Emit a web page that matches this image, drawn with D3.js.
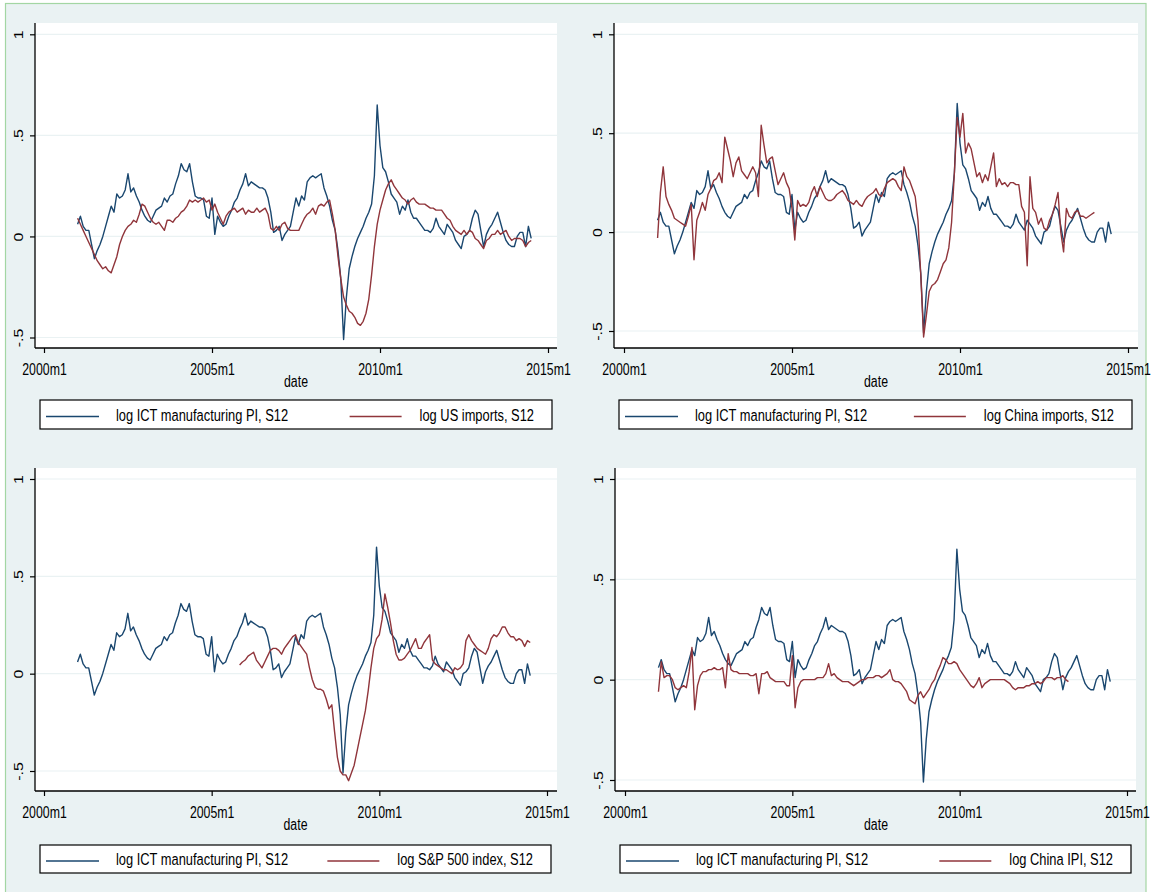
<!DOCTYPE html>
<html>
<head>
<meta charset="utf-8">
<script src="https://cdn.jsdelivr.net/npm/d3@7"></script>
<style>
  body { margin: 0; background: #ffffff; }
  svg { display: block; }
  text { font-family: "Liberation Sans", Arial, sans-serif; fill: #000; }
</style>
</head>
<body>
<svg id="chart" width="1151" height="892"></svg>
<script>
// Month index counted from 2000m1 (= 0).
const ictStart = 12;          // 2001m1
const ictPI = [
  0.06, 0.10, 0.05, 0.03, 0.03, -0.04, -0.11, -0.07, -0.04, 0.00, 0.05, 0.10,
  0.15, 0.12, 0.21, 0.19, 0.20, 0.23, 0.31, 0.22, 0.24, 0.20, 0.17, 0.13,
  0.10, 0.08, 0.07, 0.10, 0.13, 0.14, 0.15, 0.19, 0.17, 0.20, 0.21, 0.26,
  0.30, 0.36, 0.33, 0.32, 0.36, 0.27, 0.20, 0.19, 0.19, 0.18, 0.10, 0.09,
  0.19, 0.01, 0.10, 0.07, 0.05, 0.06, 0.10, 0.13, 0.17, 0.19, 0.23, 0.26,
  0.31, 0.25, 0.27, 0.26, 0.25, 0.24, 0.24, 0.23, 0.19, 0.12, 0.02, 0.03,
  0.05, -0.02, 0.01, 0.03, 0.05, 0.12, 0.19, 0.15, 0.20, 0.18, 0.27, 0.29,
  0.30, 0.29, 0.30, 0.31, 0.24, 0.20, 0.15, 0.08, 0.03, -0.07, -0.21, -0.51,
  -0.30, -0.16, -0.10, -0.05, -0.01, 0.02, 0.05, 0.09, 0.12, 0.16, 0.30, 0.65,
  0.45, 0.34, 0.32, 0.27, 0.21, 0.19, 0.17, 0.11, 0.15, 0.13, 0.18, 0.12,
  0.09, 0.09, 0.07, 0.05, 0.03, 0.03, 0.02, 0.04, 0.09, 0.05, 0.03, 0.01,
  0.06, 0.04, 0.02, -0.02, -0.04, -0.06, 0.00, 0.01, 0.03, 0.09, 0.13, 0.11,
  0.03, -0.05, 0.01, 0.04, 0.06, 0.09, 0.12, 0.07, 0.02, -0.02, -0.04, -0.05,
  -0.05, 0.00, 0.02, 0.02, -0.05, 0.05, -0.01
];

const usImportsStart = 12;    // 2001m1
const usImports = [
  0.09, 0.06, 0.03, 0.00, -0.03, -0.06, -0.09, -0.12, -0.14, -0.16, -0.15, -0.17,
  -0.18, -0.14, -0.10, -0.04, 0.00, 0.03, 0.05, 0.06, 0.08, 0.07, 0.11, 0.16,
  0.15, 0.12, 0.09, 0.07, 0.06, 0.07, 0.05, 0.03, 0.08, 0.08, 0.07, 0.09,
  0.10, 0.12, 0.13, 0.15, 0.18, 0.17, 0.18, 0.17, 0.18, 0.19, 0.17, 0.18,
  0.13, 0.16, 0.12, 0.09, 0.06, 0.10, 0.12, 0.13, 0.14, 0.12, 0.13, 0.14,
  0.11, 0.13, 0.12, 0.12, 0.14, 0.12, 0.13, 0.14, 0.11, 0.04, 0.03, 0.05,
  0.03, 0.06, 0.07, 0.04, 0.03, 0.03, 0.03, 0.03, 0.06, 0.09, 0.11, 0.12,
  0.14, 0.11, 0.15, 0.16, 0.15, 0.17, 0.18, 0.11, 0.03, -0.10, -0.21, -0.30,
  -0.34, -0.37, -0.38, -0.40, -0.43, -0.44, -0.42, -0.38, -0.31, -0.19, -0.05, 0.06,
  0.13, 0.18, 0.23, 0.26, 0.28, 0.25, 0.23, 0.21, 0.19, 0.18, 0.16, 0.18,
  0.19, 0.17, 0.16, 0.16, 0.16, 0.15, 0.14, 0.14, 0.13, 0.13, 0.13, 0.11,
  0.09, 0.08, 0.05, 0.03, 0.02, 0.01, 0.03, 0.01, 0.03, 0.02, -0.01, -0.02,
  -0.04, -0.06, -0.02, -0.01, 0.01, 0.01, 0.03, 0.01, 0.02, 0.03, 0.00, -0.02,
  -0.01, -0.01, -0.01, -0.02, -0.05, -0.03, -0.02
];

const chinaImportsStart = 12; // 2001m1
const chinaImports = [
  -0.03, 0.20, 0.33, 0.18, 0.14, 0.11, 0.07, 0.06, 0.05, 0.04, 0.03, 0.08,
  0.14, -0.14, 0.06, 0.10, 0.15, 0.11, 0.19, 0.22, 0.26, 0.27, 0.30, 0.25,
  0.48, 0.42, 0.36, 0.28, 0.35, 0.38, 0.31, 0.29, 0.27, 0.30, 0.33, 0.30,
  0.18, 0.54, 0.44, 0.35, 0.37, 0.38, 0.31, 0.24, 0.27, 0.30, 0.25, 0.22,
  0.12, -0.04, 0.16, 0.13, 0.14, 0.13, 0.15, 0.20, 0.23, 0.18, 0.23, 0.20,
  0.17, 0.16, 0.16, 0.17, 0.19, 0.20, 0.21, 0.19, 0.16, 0.15, 0.14, 0.16,
  0.14, 0.13, 0.16, 0.18, 0.19, 0.20, 0.22, 0.19, 0.18, 0.22, 0.25, 0.26,
  0.27, 0.26, 0.23, 0.21, 0.33, 0.28, 0.26, 0.22, 0.18, 0.06, -0.22, -0.53,
  -0.42, -0.30, -0.27, -0.26, -0.24, -0.20, -0.16, -0.14, -0.08, 0.05, 0.30, 0.58,
  0.48, 0.60, 0.40, 0.45, 0.42, 0.35, 0.28, 0.30, 0.25, 0.29, 0.26, 0.33,
  0.40, 0.23, 0.27, 0.24, 0.25, 0.23, 0.25, 0.25, 0.24, 0.24, 0.13, 0.10,
  -0.17, 0.28, 0.12, 0.10, 0.04, 0.07, 0.02, 0.01, 0.06, 0.09, 0.14, 0.20,
  0.00, -0.10, 0.12, 0.08, 0.07, 0.10, 0.11, 0.08, 0.08, 0.07, 0.08, 0.09,
  0.10
];

const sp500Start = 70;        // 2005m11
const sp500 = [
  0.045, 0.06,
  0.07, 0.09, 0.10, 0.11, 0.07, 0.05, 0.03, 0.06, 0.09, 0.12, 0.13, 0.13,
  0.12, 0.10, 0.13, 0.15, 0.17, 0.19, 0.20, 0.16, 0.14, 0.12, 0.10, 0.03,
  -0.03, -0.07, -0.08, -0.08, -0.09, -0.13, -0.18, -0.16, -0.30, -0.43, -0.50, -0.52,
  -0.52, -0.55, -0.51, -0.47, -0.40, -0.33, -0.26, -0.19, -0.09, 0.03, 0.13, 0.18,
  0.20, 0.28, 0.41, 0.34, 0.26, 0.17, 0.10, 0.07, 0.07, 0.08, 0.10, 0.12,
  0.15, 0.18, 0.13, 0.13, 0.16, 0.18, 0.20, 0.07, 0.05, 0.04, 0.03, 0.02,
  0.02, 0.01, 0.00, 0.03, 0.02, 0.03, 0.05, 0.17, 0.20, 0.17, 0.15, 0.13,
  0.12, 0.11, 0.10, 0.13, 0.18, 0.20, 0.19, 0.21, 0.24, 0.24, 0.21, 0.19,
  0.19, 0.17, 0.18, 0.17, 0.14, 0.17, 0.16
];

const chinaIPIStart = 12;     // 2001m1
const chinaIPI = [
  -0.06, 0.09, 0.01, 0.02, 0.02, 0.00, -0.04, -0.05, -0.04, -0.03, -0.04, 0.04,
  0.16, -0.15, -0.03, 0.02, 0.04, 0.04, 0.05, 0.05, 0.06, 0.05, 0.05, 0.06,
  -0.04, 0.13, 0.05, 0.04, 0.04, 0.03, 0.03, 0.03, 0.03, 0.02, 0.02, 0.03,
  -0.07, 0.03, 0.03, 0.04, 0.01, 0.00, -0.01, -0.01, -0.01, -0.01, -0.03, -0.03,
  0.12, -0.14, -0.04, -0.01, 0.00, 0.00, 0.00, 0.00, 0.00, 0.01, 0.01, 0.01,
  0.03, 0.08, 0.02, 0.03, 0.01, 0.00, -0.01, -0.01, -0.01, -0.02, -0.03, -0.02,
  -0.01, 0.00, 0.00, 0.01, 0.01, 0.01, 0.02, 0.02, 0.01, 0.02, 0.03, 0.05,
  0.00, -0.01, -0.01, -0.02, -0.04, -0.06, -0.10, -0.11, -0.12, -0.08, -0.06, -0.09,
  -0.07, -0.05, -0.02, 0.00, 0.04, 0.07, 0.11, 0.10, 0.08, 0.08, 0.09, 0.08,
  0.05, 0.03, 0.01, -0.01, -0.03, -0.04, -0.02, 0.01, -0.04, -0.02, -0.01, 0.00,
  0.00, 0.00, 0.00, 0.00, 0.00, -0.01, -0.02, -0.04, -0.05, -0.04, -0.04, -0.04,
  -0.03, -0.03, -0.02, -0.02, -0.01, -0.02, -0.01, 0.01, 0.01, 0.01, 0.00, 0.01,
  0.01, 0.02, 0.00, -0.01
];

const xTickMonths = [0, 60, 120, 180];
const xTickLabels = ["2000m1", "2005m1", "2010m1", "2015m1"];
const yTickValues = [-0.5, 0, 0.5, 1];
const yTickLabels = ["-.5", "0", ".5", "1"];
const xTitle = "date";
const ictLabel = "log ICT manufacturing PI, S12";
const redLabels = ["log US imports, S12", "log China imports, S12", "log S&P 500 index, S12", "log China IPI, S12"];

const blue = "#1a476f", maroon = "#90353b";
const bg = "#eaf2f3";
const tickFont = 16, tickSqueeze = 0.77;
const legendFont = 16.3, legendSqueeze = 0.79;

const toPoints = (start, arr) => arr.map((v, i) => ({ m: start + i, v }));
const ictSeries = toPoints(ictStart, ictPI);
const redSeries = [
  toPoints(usImportsStart, usImports),
  toPoints(chinaImportsStart, chinaImports),
  toPoints(sp500Start, sp500),
  toPoints(chinaIPIStart, chinaIPI)
];

// Frame geometry for each of the four graphs in the 2x2 grid
const frames = [
  { left: 35,  right: 557,  top: 23,  bottom: 348, x0: 44,  x1: 548,  yTop: 34.3, yBot: 337.5, lg: { x: 40,  y: 400, w: 512, h: 29 } },
  { left: 614, right: 1138, top: 23,  bottom: 348, x0: 624, x1: 1128, yTop: 34.3, yBot: 331,   lg: { x: 619, y: 400, w: 513, h: 29 } },
  { left: 35,  right: 557,  top: 468, bottom: 791, x0: 44,  x1: 547,  yTop: 479,  yBot: 771,   lg: { x: 40,  y: 845, w: 511, h: 28 } },
  { left: 615, right: 1136, top: 468, bottom: 791, x0: 625, x1: 1127, yTop: 479,  yBot: 780,   lg: { x: 620, y: 845, w: 511, h: 28 } }
];

const svg = d3.select("#chart");

// Outer graph region with its thin green frame
svg.append("rect").attr("x", 0).attr("y", 0).attr("width", 1151).attr("height", 892).attr("fill", "#ffffff");
svg.append("rect").attr("x", 5.5).attr("y", 3.5).attr("width", 1140.5).attr("height", 900)
  .attr("fill", bg).attr("stroke", "#a3d6a3").attr("stroke-width", 1.2);

frames.forEach((f, idx) => {
  const g = svg.append("g");
  const x = d3.scaleLinear().domain([0, 180]).range([f.x0, f.x1]);
  const y = d3.scaleLinear().domain([-0.5, 1]).range([f.yBot, f.yTop]);

  // Plot region
  g.append("rect").attr("x", f.left).attr("y", f.top)
    .attr("width", f.right - f.left).attr("height", f.bottom - f.top).attr("fill", "#ffffff");

  // Horizontal grid lines
  g.selectAll(".grid").data(yTickValues).join("line")
    .attr("x1", f.left).attr("x2", f.right)
    .attr("y1", d => y(d)).attr("y2", d => y(d))
    .attr("stroke", bg).attr("stroke-width", 1.2);

  // Series
  const line = d3.line().x(d => x(d.m)).y(d => y(d.v));
  g.append("path").datum(ictSeries).attr("d", line)
    .attr("fill", "none").attr("stroke", blue).attr("stroke-width", 1.4).attr("stroke-linejoin", "round");
  g.append("path").datum(redSeries[idx]).attr("d", line)
    .attr("fill", "none").attr("stroke", maroon).attr("stroke-width", 1.4).attr("stroke-linejoin", "round");

  // X axis
  const xa = g.append("g").attr("transform", `translate(0,${f.bottom})`)
    .call(d3.axisBottom(x).tickValues(xTickMonths).tickFormat((d, i) => xTickLabels[i]).tickSize(5).tickSizeOuter(0));
  xa.select(".domain").remove();
  xa.selectAll(".tick line").attr("stroke", "#000").attr("stroke-width", 1.2);
  xa.selectAll(".tick text").attr("y", 27).attr("dy", null)
    .attr("transform", `scale(${tickSqueeze},1)`).style("font-size", tickFont + "px").attr("fill", "#000");
  g.append("line").attr("x1", f.left).attr("x2", f.right).attr("y1", f.bottom).attr("y2", f.bottom)
    .attr("stroke", "#000").attr("stroke-width", 1.3);

  // X axis title
  g.append("text").attr("transform", `translate(${(f.x0 + f.x1) / 2},${f.bottom + 39}) scale(${tickSqueeze},1)`)
    .attr("text-anchor", "middle").style("font-size", tickFont + "px").text(xTitle);

  // Y axis
  const ya = g.append("g").attr("transform", `translate(${f.left},0)`)
    .call(d3.axisLeft(y).tickValues(yTickValues).tickFormat((d, i) => yTickLabels[i]).tickSize(5).tickSizeOuter(0));
  ya.select(".domain").remove();
  ya.selectAll(".tick line").attr("stroke", "#000").attr("stroke-width", 1.2);
  ya.selectAll(".tick text").attr("x", 0).attr("y", 0).attr("dy", null)
    .attr("text-anchor", "middle")
    .attr("transform", `translate(-12.5,0) scale(${tickSqueeze},1) rotate(-90)`)
    .style("font-size", tickFont + "px").attr("fill", "#000");
  g.append("line").attr("x1", f.left).attr("x2", f.left).attr("y1", f.top).attr("y2", f.bottom)
    .attr("stroke", "#000").attr("stroke-width", 1.3);

  // Legend
  const lg = f.lg;
  const cy = lg.y + lg.h / 2;
  g.append("rect").attr("x", lg.x).attr("y", lg.y).attr("width", lg.w).attr("height", lg.h)
    .attr("fill", "#ffffff").attr("stroke", "#000").attr("stroke-width", 1.2);
  g.append("line").attr("x1", lg.x + 6).attr("x2", lg.x + 59).attr("y1", cy + 2).attr("y2", cy + 2)
    .attr("stroke", blue).attr("stroke-width", 1.3);
  g.append("text").attr("transform", `translate(${lg.x + 76},${cy + 6}) scale(${legendSqueeze},1)`)
    .style("font-size", legendFont + "px").text(ictLabel);
  const t2 = g.append("text").attr("transform", `translate(${lg.x + lg.w - 18},${cy + 6}) scale(${legendSqueeze},1)`)
    .attr("text-anchor", "end").style("font-size", legendFont + "px").text(redLabels[idx]);
  const w2 = t2.node().getComputedTextLength() * legendSqueeze;
  const t2Start = lg.x + lg.w - 18 - w2;
  g.append("line").attr("x1", t2Start - 70).attr("x2", t2Start - 18).attr("y1", cy + 2).attr("y2", cy + 2)
    .attr("stroke", maroon).attr("stroke-width", 1.3);
});
</script>
</body>
</html>
